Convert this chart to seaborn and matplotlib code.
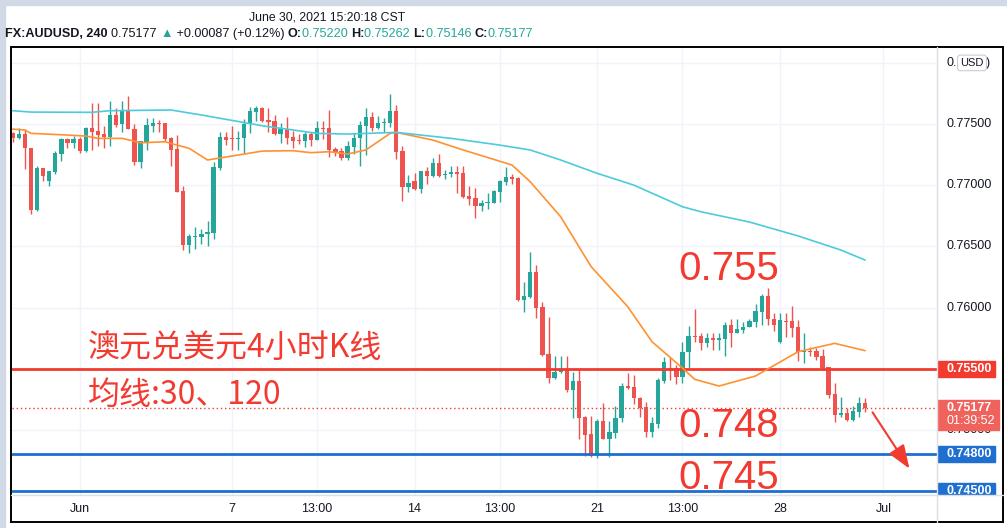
import numpy as np
import pandas as pd
import matplotlib
matplotlib.use("Agg")
import matplotlib.pyplot as plt
from matplotlib.patches import Rectangle, FancyArrowPatch
from matplotlib.lines import Line2D
from matplotlib.offsetbox import TextArea, HPacker, AnchoredOffsetbox
import seaborn as sns

sns.set_style("white")
plt.rcParams['font.family'] = ['Liberation Sans', 'DejaVu Sans']
CJK = ['Noto Sans CJK SC', 'DejaVu Sans']

# FX:AUDUSD 4H candles (left to right)
opens = [0.77429, 0.77388, 0.77416, 0.77307, 0.76797, 0.77138, 0.77037, 0.77111, 0.77258, 0.77378,
         0.77348, 0.77378, 0.77282, 0.77470, 0.77443, 0.77416, 0.77397, 0.77574, 0.77497, 0.77607,
         0.77459, 0.77192, 0.77356, 0.77487, 0.77503, 0.77511, 0.77388, 0.77296, 0.76952, 0.76511,
         0.76579, 0.76579, 0.76598, 0.76612, 0.77143, 0.77397, 0.77383, 0.77375, 0.77383, 0.77497,
         0.77601, 0.77634, 0.77533, 0.77525, 0.77418, 0.77457, 0.77397, 0.77372, 0.77364, 0.77418,
         0.77369, 0.77467, 0.77467, 0.77296, 0.77279, 0.77220, 0.77315, 0.77383, 0.77487, 0.77557,
         0.77470, 0.77506, 0.77511, 0.77607, 0.77279, 0.76988, 0.77034, 0.76966, 0.77116, 0.77078,
         0.77179, 0.77080, 0.77089, 0.77105, 0.77097, 0.76911, 0.76892, 0.76832, 0.76857, 0.76857,
         0.76947, 0.77029, 0.77064, 0.77056, 0.76061, 0.76088, 0.76287, 0.76007, 0.75620, 0.75426,
         0.75472, 0.75489, 0.75325, 0.75402, 0.75107, 0.74966, 0.74802, 0.75075, 0.74925, 0.74977,
         0.75094, 0.75358, 0.75347, 0.75263, 0.75189, 0.74985, 0.75048, 0.75402, 0.75503, 0.75503,
         0.75435, 0.75634, 0.75767, 0.75767, 0.75712, 0.75748, 0.75734, 0.75740, 0.75857, 0.75794,
         0.75816, 0.75843, 0.75884, 0.75966, 0.76094, 0.75906, 0.75721, 0.75892, 0.75890, 0.75838,
         0.75639, 0.75647, 0.75647, 0.75603, 0.75511, 0.75293, 0.75121, 0.75140, 0.75080, 0.75148,
         0.75220]
highs = [0.77437, 0.77465, 0.77459, 0.77307, 0.77157, 0.77143, 0.77116, 0.77279, 0.77388, 0.77388,
         0.77405, 0.77397, 0.77478, 0.77669, 0.77669, 0.77484, 0.77688, 0.77628, 0.77688, 0.77729,
         0.77497, 0.77361, 0.77552, 0.77547, 0.77533, 0.77511, 0.77397, 0.77410, 0.76993, 0.76598,
         0.76661, 0.76642, 0.76710, 0.77192, 0.77438, 0.77438, 0.77484, 0.77443, 0.77541, 0.77639,
         0.77650, 0.77639, 0.77628, 0.77574, 0.77506, 0.77555, 0.77443, 0.77416, 0.77438, 0.77438,
         0.77525, 0.77525, 0.77615, 0.77315, 0.77301, 0.77361, 0.77424, 0.77525, 0.77628, 0.77601,
         0.77566, 0.77552, 0.77745, 0.77656, 0.77320, 0.77083, 0.77097, 0.77116, 0.77151, 0.77225,
         0.77252, 0.77124, 0.77157, 0.77157, 0.77157, 0.76993, 0.76974, 0.76879, 0.76939, 0.76961,
         0.77042, 0.77146, 0.77091, 0.77070, 0.76211, 0.76451, 0.76347, 0.76042, 0.75925, 0.75603,
         0.75603, 0.75603, 0.75475, 0.75494, 0.75113, 0.75113, 0.75086, 0.75222, 0.75075, 0.75197,
         0.75380, 0.75467, 0.75448, 0.75271, 0.75225, 0.75107, 0.75426, 0.75598, 0.75598, 0.75530,
         0.75721, 0.75849, 0.75985, 0.75794, 0.75789, 0.75789, 0.75789, 0.75884, 0.75903, 0.75903,
         0.75884, 0.75903, 0.76029, 0.76110, 0.76157, 0.75952, 0.75952, 0.75952, 0.76012, 0.75898,
         0.75789, 0.75680, 0.75666, 0.75658, 0.75516, 0.75386, 0.75266, 0.75176, 0.75195, 0.75266,
         0.75262]
lows = [0.77350, 0.77375, 0.77130, 0.76762, 0.76789, 0.77037, 0.76996, 0.77089, 0.77198, 0.77301,
        0.77301, 0.77266, 0.77274, 0.77288, 0.77320, 0.77301, 0.77320, 0.77478, 0.77438, 0.77457,
        0.77165, 0.77143, 0.77288, 0.77438, 0.77438, 0.77361, 0.77160, 0.76947, 0.76470, 0.76443,
        0.76478, 0.76516, 0.76503, 0.76560, 0.77124, 0.77329, 0.77288, 0.77288, 0.77260, 0.77424,
        0.77525, 0.77519, 0.77438, 0.77410, 0.77348, 0.77337, 0.77307, 0.77334, 0.77315, 0.77323,
        0.77369, 0.77378, 0.77233, 0.77239, 0.77206, 0.77206, 0.77252, 0.77160, 0.77247, 0.77443,
        0.77459, 0.77438, 0.77478, 0.77214, 0.76873, 0.76942, 0.76961, 0.76933, 0.77007, 0.77070,
        0.77070, 0.77048, 0.77069, 0.76939, 0.76892, 0.76838, 0.76734, 0.76789, 0.76805, 0.76851,
        0.76865, 0.77001, 0.77007, 0.76053, 0.75966, 0.76080, 0.75917, 0.75603, 0.75385, 0.75415,
        0.75462, 0.75312, 0.75099, 0.74922, 0.74786, 0.74775, 0.74767, 0.74922, 0.74775, 0.74930,
        0.75067, 0.75331, 0.75208, 0.75107, 0.74944, 0.74939, 0.75012, 0.75386, 0.75407, 0.75372,
        0.75380, 0.75503, 0.75715, 0.75653, 0.75680, 0.75653, 0.75653, 0.75603, 0.75680, 0.75789,
        0.75789, 0.75838, 0.75838, 0.75857, 0.75857, 0.75811, 0.75712, 0.75762, 0.75756, 0.75565,
        0.75544, 0.75603, 0.75571, 0.75495, 0.75257, 0.75067, 0.75102, 0.75075, 0.75075, 0.75108,
        0.75146]
closes = [0.77388, 0.77416, 0.77301, 0.76797, 0.77143, 0.77078, 0.77116, 0.77260, 0.77378, 0.77348,
          0.77378, 0.77282, 0.77470, 0.77438, 0.77410, 0.77397, 0.77574, 0.77492, 0.77606, 0.77457,
          0.77192, 0.77361, 0.77492, 0.77511, 0.77497, 0.77378, 0.77288, 0.76947, 0.76511, 0.76585,
          0.76585, 0.76601, 0.76620, 0.77151, 0.77397, 0.77369, 0.77375, 0.77388, 0.77500, 0.77607,
          0.77634, 0.77527, 0.77519, 0.77418, 0.77457, 0.77388, 0.77364, 0.77364, 0.77418, 0.77369,
          0.77465, 0.77462, 0.77290, 0.77274, 0.77220, 0.77320, 0.77388, 0.77492, 0.77557, 0.77470,
          0.77511, 0.77519, 0.77607, 0.77274, 0.76988, 0.77021, 0.76966, 0.77116, 0.77078, 0.77179,
          0.77078, 0.77091, 0.77110, 0.77091, 0.76906, 0.76887, 0.76832, 0.76857, 0.76865, 0.76952,
          0.77034, 0.77070, 0.77053, 0.76061, 0.76094, 0.76287, 0.75999, 0.75612, 0.75426, 0.75475,
          0.75494, 0.75325, 0.75402, 0.75099, 0.74958, 0.74786, 0.75075, 0.74925, 0.74979, 0.75099,
          0.75361, 0.75339, 0.75257, 0.75181, 0.74985, 0.75058, 0.75407, 0.75557, 0.75484, 0.75435,
          0.75634, 0.75767, 0.75756, 0.75712, 0.75748, 0.75734, 0.75748, 0.75857, 0.75794, 0.75821,
          0.75843, 0.75890, 0.75971, 0.76094, 0.75906, 0.75857, 0.75898, 0.75884, 0.75835, 0.75639,
          0.75645, 0.75639, 0.75598, 0.75503, 0.75285, 0.75121, 0.75140, 0.75080, 0.75154, 0.75217,
          0.75177]

# moving averages (30 and 120), read at a few bars
ma30_bar = [0, 2, 3, 9, 12, 14, 18, 21, 25, 29, 32, 41, 46, 49, 52, 55, 58, 62, 63, 69,
            74, 82, 85, 90, 95, 101, 105, 110, 112, 116, 122, 129, 135, 140]
ma30_val = [0.77459, 0.77451, 0.77424, 0.77410, 0.77402, 0.77383, 0.77383, 0.77347, 0.77355, 0.77301,
            0.77206, 0.77279, 0.77282, 0.77266, 0.77274, 0.77255, 0.77288, 0.77424, 0.77432, 0.77369,
            0.77288, 0.77165, 0.77028, 0.76742, 0.76334, 0.76007, 0.75720, 0.75505, 0.75413, 0.75358,
            0.75440, 0.75639, 0.75707, 0.75647]
ma120_bar = [0, 3, 13, 16, 26, 31, 41, 50, 55, 63, 72, 80, 85, 90, 96, 102, 110, 113, 121, 129, 136, 140]
ma120_val = [0.77609, 0.77598, 0.77596, 0.77609, 0.77615, 0.77574, 0.77486, 0.77424, 0.77418, 0.77432,
             0.77383, 0.77328, 0.77288, 0.77206, 0.77097, 0.77001, 0.76824, 0.76783, 0.76699, 0.76585,
             0.76470, 0.76388]

time_pos = [11, 36, 50, 66, 80, 96, 110, 126, 143]
time_labels = ['Jun', '7', '13:00', '14', '13:00', '21', '13:00', '28', 'Jul']
price_ticks = [0.745, 0.750, 0.755, 0.760, 0.765, 0.770, 0.775, 0.780]

resistance = 0.755
supports = [0.748, 0.745]
last_price = 0.75177

GREEN = '#26a69a'
RED = '#ef5350'
LINE_RED = '#f23a2e'
BLUE = '#1e6fcf'
TXT_RED = '#f23a30'
DARK = '#131722'

W, H = 1007, 528
fig = plt.figure(figsize=(W / 100, H / 100), dpi=100)


def fbox(x0, y0, x1, y1):
    return [x0 / W, 1 - y1 / H, (x1 - x0) / W, (y1 - y0) / H]


ax = fig.add_axes(fbox(12, 47, 937, 495))
pax = fig.add_axes(fbox(937, 47, 1003, 495), sharey=ax)

o = np.array(opens)
h = np.array(highs)
l = np.array(lows)
c = np.array(closes)
x = np.arange(len(o))
cols = np.where(c >= o, GREEN, RED)

ax.vlines(x, l, h, colors=cols, lw=1, zorder=3)
ax.bar(x, np.maximum(np.abs(c - o), 0.00009), bottom=np.minimum(o, c), width=0.7,
       color=cols, linewidth=0, zorder=4)

ma = pd.DataFrame({'bar': ma30_bar, 'val': ma30_val})
sns.lineplot(data=ma, x='bar', y='val', ax=ax, color='#ff9130', lw=1.2, zorder=6)
ma = pd.DataFrame({'bar': ma120_bar, 'val': ma120_val})
sns.lineplot(data=ma, x='bar', y='val', ax=ax, color='#4ccbdc', lw=1.2, zorder=6)

ax.axhline(resistance, color=LINE_RED, lw=2, zorder=5)
for s in supports:
    ax.axhline(s, color=BLUE, lw=2, zorder=5)
ax.axhline(last_price, color=LINE_RED, lw=1, ls=(0, (1, 2)), zorder=2)

ax.set_xlim(-0.11, 151.8)
ax.set_ylim(0.74467, 0.78130)
ax.set_yticks(price_ticks)
ax.set_xticks(time_pos)
ax.set_xticklabels(time_labels)
ax.tick_params(axis='y', left=False, labelleft=False)
ax.tick_params(axis='x', length=0, pad=6, labelsize=9, labelcolor=DARK)
ax.grid(True, color='#f0f3fa', lw=1)
ax.set_xlabel('')
ax.set_ylabel('')
for sp in ax.spines.values():
    sp.set_visible(False)

# price scale
pax.set_xlim(0, 1)
pax.axis('off')
ytr = pax.get_yaxis_transform()
px = (0.78130 - 0.74467) / 448
for v in price_ticks:
    if v == 0.780:
        # only the ends of this label peek out around the USD badge
        pax.text(0.15, v, "0.", transform=ytr, va='center', ha='left', fontsize=9, color=DARK)
        pax.text(0.74, v, ")", transform=ytr, va='center', ha='left', fontsize=9, color=DARK)
        continue
    pax.text(0.15, v, f"{v:.5f}", transform=ytr, va='center', ha='left', fontsize=9, color=DARK)


def price_box(v, color, label):
    pax.add_patch(Rectangle((0, v - 8 * px), 0.885, 16 * px, transform=ytr, color=color, zorder=5))
    pax.text(0.14, v, label, transform=ytr, va='center', ha='left', fontsize=9,
             color='white', fontweight='bold', zorder=6)


price_box(resistance, LINE_RED, f"{resistance:.5f}")
for s in supports:
    price_box(s, BLUE, f"{s:.5f}")
pax.add_patch(Rectangle((0, last_price - 22 * px), 0.94, 30 * px, transform=ytr,
                        color='#f0625c', zorder=5))
pax.text(0.14, last_price, f"{last_price:.5f}", transform=ytr, va='center', ha='left',
         fontsize=9, color='white', fontweight='bold', zorder=6)
pax.text(0.14, last_price - 13 * px, "01:39:52", transform=ytr, va='center', ha='left',
         fontsize=9, color='white', zorder=6)
pax.text(0.53, 0.78, 'USD', transform=ytr, va='center', ha='center', fontsize=8, color=DARK, zorder=6,
         bbox=dict(boxstyle='round,pad=0.25', fc='white', ec='#c9ccd4', lw=0.8))

# frame and separators
fig.patches.append(Rectangle((0, 0), 5 / W, 1, transform=fig.transFigure, color='#d1d9e6'))
fig.patches.append(Rectangle((0, 1 - 5 / H), 1, 5 / H, transform=fig.transFigure, color='#d1d9e6'))
fig.lines.append(Line2D([11 / W, 1003 / W], [1 - 495 / H] * 2, transform=fig.transFigure,
                        color='#dcdfe6', lw=1))
fig.lines.append(Line2D([937 / W] * 2, [1 - 47 / H, 1 - 522 / H], transform=fig.transFigure,
                        color='#dcdfe6', lw=1))
fig.patches.append(Rectangle((11 / W, 1 - 522 / H), 992 / W, 475 / H, transform=fig.transFigure,
                             fill=False, ec='black', lw=1.4))

# header
fig.text(327 / W, 1 - 17 / H, 'June 30, 2021 15:20:18 CST', ha='center', va='center',
         fontsize=8.8, color=DARK)
parts = [('FX:AUDUSD, 240 ', DARK, 'bold'), ('0.75177 ', DARK, 'normal'), ('▲', GREEN, 'normal'),
         (' +0.00087 (+0.12%) ', DARK, 'normal'), ('O:', DARK, 'bold'), ('0.75220 ', GREEN, 'normal'),
         ('H:', DARK, 'bold'), ('0.75262 ', GREEN, 'normal'), ('L:', DARK, 'bold'),
         ('0.75146 ', GREEN, 'normal'), ('C:', DARK, 'bold'), ('0.75177', GREEN, 'normal')]
boxes = [TextArea(t, textprops=dict(color=col, fontweight=fw, fontsize=9.1)) for t, col, fw in parts]
pack = HPacker(children=boxes, pad=0, sep=0, align='baseline')
anch = AnchoredOffsetbox(loc='center left', child=pack, bbox_to_anchor=(5 / W, 1 - 34 / H),
                         bbox_transform=fig.transFigure, frameon=False, pad=0, borderpad=0)
fig.add_artist(anch)

# annotations
fig.text(88 / W, 1 - 348 / H, '澳元兑美元4小时K线', fontsize=23, color=TXT_RED, va='center', family=CJK)
fig.text(88 / W, 1 - 395 / H, '均线:30、120', fontsize=23, color=TXT_RED, va='center', family=CJK)
fig.text(678 / W, 1 - 280 / H, '0.755', fontsize=29, color=TXT_RED, va='baseline')
fig.text(678 / W, 1 - 437 / H, '0.748', fontsize=29, color=TXT_RED, va='baseline')
fig.text(678 / W, 1 - 489 / H, '0.745', fontsize=29, color=TXT_RED, va='baseline')
fig.patches.append(FancyArrowPatch((871 / W, 1 - 410 / H), (911 / W, 1 - 471 / H),
                                   transform=fig.transFigure, color=TXT_RED, lw=1.5,
                                   arrowstyle='-|>,head_length=0.8,head_width=0.3', mutation_scale=18))

fig.savefig('out.png', dpi=100)
